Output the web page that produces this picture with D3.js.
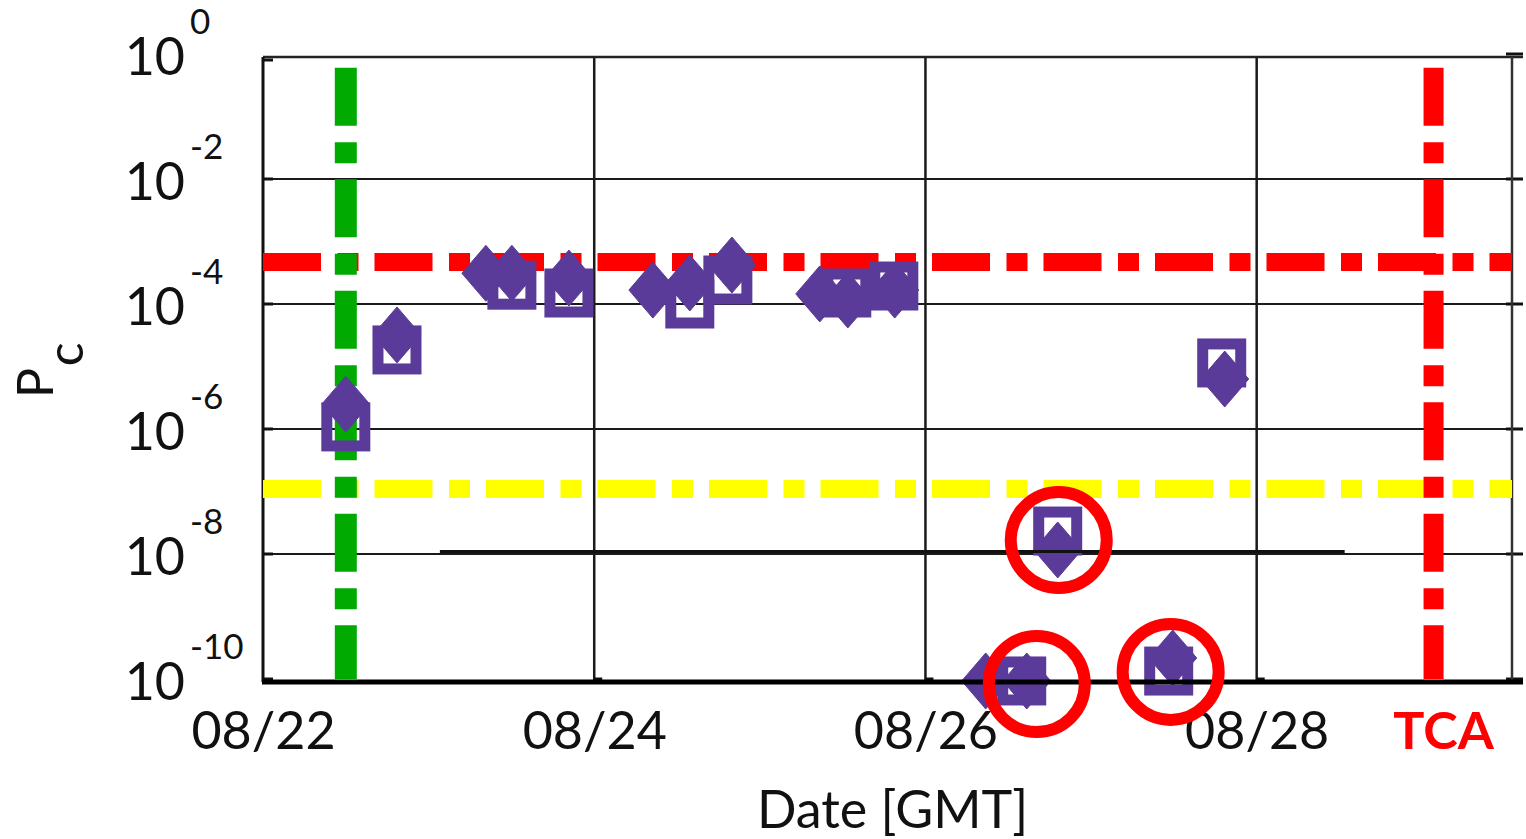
<!DOCTYPE html>
<html>
<head>
<meta charset="utf-8">
<script src="https://cdn.jsdelivr.net/npm/d3@7"></script>
<style>
body { margin: 0; background: #fff; }
text { font-family: Lato, "Open Sans", sans-serif; }
</style>
</head>
<body>
<script>
// ---------------- DATA ----------------
const diamondDates = ["08/22 12:00","08/22 19:25","08/23 08:18","08/23 12:04","08/23 20:20","08/24 08:30","08/24 13:51","08/24 19:57","08/25 08:41","08/25 12:45","08/25 19:33","08/26 08:44","08/26 14:41","08/26 19:10","08/27 11:50","08/27 19:22"];
const diamondPc    = [2.5e-6, 3.2e-5, 3.1e-4, 3.1e-4, 2.6e-4, 1.67e-4, 2.17e-4, 4.2e-4, 1.45e-4, 1.16e-4, 1.67e-4, 9.3e-11, 9.3e-11, 1.16e-8, 2.17e-10, 6.3e-6];

const squareDates = ["08/22 12:00","08/22 19:25","08/23 12:04","08/23 20:20","08/24 13:51","08/24 19:22","08/25 12:36","08/25 19:25","08/26 13:57","08/26 19:10","08/27 11:15","08/27 18:56"];
const squarePc    = [1.08e-6, 1.84e-5, 2.0e-4, 1.5e-4, 1.0e-4, 2.42e-4, 1.5e-4, 1.94e-4, 9.3e-11, 2.33e-8, 1.34e-10, 1.14e-5];

const circleDates = ["08/26 19:19","08/26 16:08","08/27 11:32"];
const circlePc    = [1.67e-8, 8.3e-11, 1.3e-10];

const xTickDates  = ["08/22 00:00","08/24 00:00","08/26 00:00","08/28 00:00"];
const yTickValues = [1, 1e-2, 1e-4, 1e-6, 1e-8, 1e-10];
const yTickExps   = ["0","-2","-4","-6","-8","-10"];
const gridPc      = [1e-2, 1e-4, 1e-6, 1e-8];

const redThresholdPc    = 4.7e-4;
const yellowThresholdPc = 1.1e-7;
const greenDate = "08/22 12:00";
const tcaDate   = "08/29 01:38";
const verticalTopPc = 0.6;
const segmentDates = ["08/23 01:38","08/28 12:45"];
const segmentPc = 1.1e-8;

const xDomainDates = ["08/22 00:00","08/29 13:00"];
const yDomainExp = [-0.048, -10.048];

// ---------------- CHART ----------------
const W = 1526, H = 839;
const L = 263, R = 1512, T = 57, B = 682;
const parse = d3.timeParse("%m/%d %H:%M");
const purple = "#5b3b99";

const svg = d3.select("body").append("svg").attr("width", W).attr("height", H);

const x = d3.scaleTime().domain(xDomainDates.map(parse)).range([L, R]);
const y = d3.scaleLog().domain(yDomainExp.map(e => Math.pow(10, e))).range([T, B]);

// gridlines horizontal
svg.append("g").selectAll("line").data(gridPc).join("line")
  .attr("x1", L).attr("x2", R).attr("y1", d => y(d)).attr("y2", d => y(d))
  .attr("stroke", "#1a1a1a").attr("stroke-width", 2);
// right side ticks
svg.append("g").selectAll("line").data(yTickValues).join("line")
  .attr("x1", R - 6).attr("x2", R + 11).attr("y1", d => y(d)).attr("y2", d => y(d))
  .attr("stroke", "#111").attr("stroke-width", 3);
// left inner ticks
svg.append("g").selectAll("line").data(yTickValues).join("line")
  .attr("x1", L).attr("x2", L + 10).attr("y1", d => Math.max(y(d), T + 3)).attr("y2", d => Math.max(y(d), T + 3))
  .attr("stroke", "#111").attr("stroke-width", 3);

// gridlines vertical
const xTicks = xTickDates.map(parse);
svg.append("g").selectAll("line").data(xTicks.slice(1)).join("line")
  .attr("x1", d => x(d)).attr("x2", d => x(d)).attr("y1", T).attr("y2", B)
  .attr("stroke", "#1a1a1a").attr("stroke-width", 2.5);
svg.append("g").selectAll("line").data(xTicks.slice(1)).join("line")
  .attr("x1", d => x(d)).attr("x2", d => x(d) + 8).attr("y1", y(1e-10)).attr("y2", y(1e-10))
  .attr("stroke", "#111").attr("stroke-width", 3);

// frame
svg.append("line").attr("x1", L).attr("x2", R + 11).attr("y1", T).attr("y2", T).attr("stroke", "#222").attr("stroke-width", 2.5);
svg.append("line").attr("x1", L).attr("x2", L).attr("y1", T).attr("y2", B).attr("stroke", "#111").attr("stroke-width", 3);
svg.append("line").attr("x1", R).attr("x2", R).attr("y1", T).attr("y2", B).attr("stroke", "#333").attr("stroke-width", 2.5);

// threshold lines
const dash = "58,16.5,21,16";
svg.append("line").attr("x1", L).attr("x2", R).attr("y1", y(redThresholdPc)).attr("y2", y(redThresholdPc))
  .attr("stroke", "#ff0000").attr("stroke-width", 18).attr("stroke-dasharray", dash);
svg.append("line").attr("x1", L).attr("x2", R).attr("y1", y(yellowThresholdPc)).attr("y2", y(yellowThresholdPc))
  .attr("stroke", "#ffff00").attr("stroke-width", 18).attr("stroke-dasharray", dash);
svg.append("line").attr("x1", x(parse(greenDate))).attr("x2", x(parse(greenDate)))
  .attr("y1", y(verticalTopPc)).attr("y2", B - 3)
  .attr("stroke", "#00aa00").attr("stroke-width", 22).attr("stroke-dasharray", dash);
svg.append("line").attr("x1", x(parse(tcaDate))).attr("x2", x(parse(tcaDate)))
  .attr("y1", y(verticalTopPc)).attr("y2", B - 3)
  .attr("stroke", "#ff0000").attr("stroke-width", 20).attr("stroke-dasharray", dash);

// markers: diamonds
const diamondType = { draw(ctx) { const w = 24, h = 28; ctx.moveTo(0, -h); ctx.lineTo(w, 0); ctx.lineTo(0, h); ctx.lineTo(-w, 0); ctx.closePath(); } };
svg.append("g").selectAll("path").data(diamondDates.map((d, i) => ({ t: parse(d), v: diamondPc[i] }))).join("path")
  .attr("d", d3.symbol().type(diamondType)())
  .attr("transform", d => `translate(${x(d.t)},${y(d.v)})`)
  .attr("fill", purple).attr("stroke", purple).attr("stroke-width", 1);
// squares (hollow)
svg.append("g").selectAll("rect").data(squareDates.map((d, i) => ({ t: parse(d), v: squarePc[i] }))).join("rect")
  .attr("x", d => x(d.t) - 19).attr("y", d => y(d.v) - 19).attr("width", 38).attr("height", 38)
  .attr("fill", "none").attr("stroke", purple).attr("stroke-width", 11);

// extra line segment at 1e-8
svg.append("line").attr("x1", x(parse(segmentDates[0]))).attr("x2", x(parse(segmentDates[1])))
  .attr("y1", y(segmentPc)).attr("y2", y(segmentPc)).attr("stroke", "#111").attr("stroke-width", 3);

// bottom axis line
svg.append("line").attr("x1", L - 1).attr("x2", R + 11).attr("y1", B).attr("y2", B).attr("stroke", "#000").attr("stroke-width", 5);

// x axis labels
const xAxis = d3.axisBottom(x).tickValues(xTicks).tickFormat(d3.timeFormat("%m/%d")).tickSize(0);
const gx = svg.append("g").attr("transform", `translate(0,${B})`).call(xAxis);
gx.select(".domain").remove();
gx.selectAll("text").attr("y", 67).attr("dy", 0).attr("font-size", 52).attr("fill", "#111")
  .style("font-family", "Lato, sans-serif");
svg.append("text").attr("x", x(parse(tcaDate)) + 10).attr("y", B + 67).attr("text-anchor", "middle")
  .attr("font-size", 52).attr("font-weight", "bold").attr("fill", "#ff0000").text("TCA");

// y axis labels
const yAxis = d3.axisLeft(y).tickValues(yTickValues).tickFormat("").tickSize(0);
const gy = svg.append("g").attr("transform", `translate(${L},0)`).call(yAxis);
gy.select(".domain").remove();
gy.selectAll(".tick").each(function(d, i) {
  const g = d3.select(this);
  g.selectAll("text").remove();
  g.append("text").attr("x", -78).attr("y", 20).attr("text-anchor", "end")
    .attr("font-size", 52).attr("fill", "#111").text("10");
  g.append("text").attr("x", -73).attr("y", -21).attr("text-anchor", "start")
    .attr("font-size", 35).attr("fill", "#111").text(yTickExps[i]);
});

// axis titles
svg.append("text").attr("x", (L + R) / 2 + 5).attr("y", 828).attr("text-anchor", "middle")
  .attr("font-size", 52).attr("fill", "#111").text("Date [GMT]");
const yl = svg.append("text").attr("transform", "translate(53,398) rotate(-90)")
  .attr("font-size", 50).attr("fill", "#111");
yl.append("tspan").text("P");
yl.append("tspan").attr("dx", 3).attr("dy", 30).text("c");

// red circles
svg.append("g").selectAll("circle").data(circleDates.map((d, i) => ({ t: parse(d), v: circlePc[i] }))).join("circle")
  .attr("cx", d => x(d.t)).attr("cy", d => y(d.v)).attr("r", 48)
  .attr("fill", "none").attr("stroke", "#ff0000").attr("stroke-width", 12);
</script>
</body>
</html>
